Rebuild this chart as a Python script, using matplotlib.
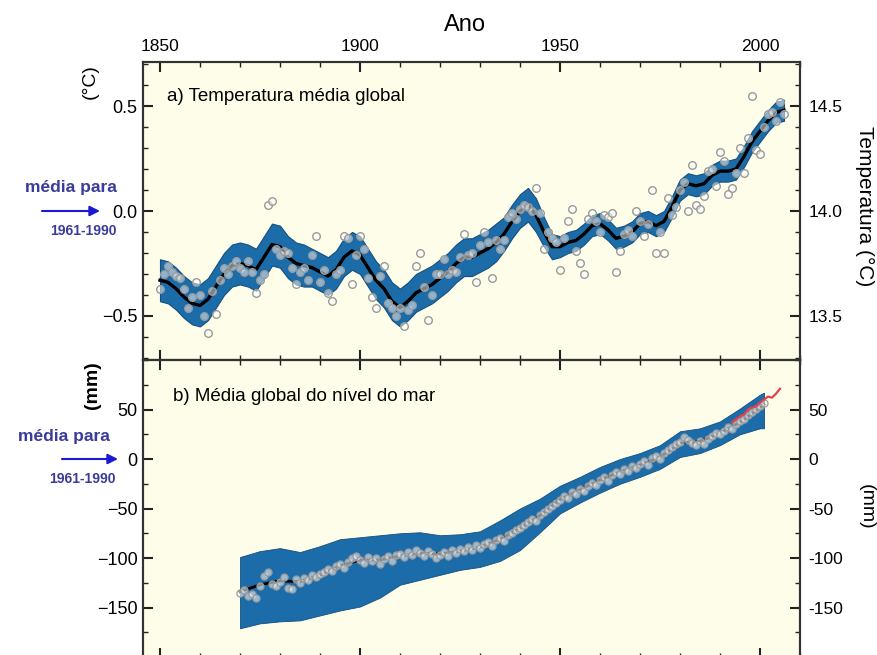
import matplotlib.pyplot as plt
import numpy as np
from matplotlib.ticker import MultipleLocator, FixedLocator, FuncFormatter

plt.rcParams['font.family'] = ['Liberation Sans', 'DejaVu Sans']

# --- a) global mean temperature, anomaly vs 1961-1990 (degC) ---
temp_years = np.arange(1850, 2007)
temp_anom = [
    -0.37, -0.30, -0.26, -0.29, -0.31, -0.32, -0.37, -0.46, -0.41, -0.34,
    -0.40, -0.50, -0.58, -0.38, -0.49, -0.33, -0.27, -0.30, -0.26, -0.24,
    -0.27, -0.29, -0.24, -0.29, -0.39, -0.33, -0.30, 0.03, 0.05, -0.18,
    -0.21, -0.19, -0.20, -0.27, -0.35, -0.29, -0.27, -0.33, -0.21, -0.12,
    -0.34, -0.28, -0.39, -0.43, -0.30, -0.28, -0.12, -0.13, -0.35, -0.21,
    -0.12, -0.18, -0.32, -0.41, -0.46, -0.31, -0.26, -0.44, -0.46, -0.50,
    -0.46, -0.55, -0.47, -0.45, -0.26, -0.20, -0.36, -0.52, -0.40, -0.30,
    -0.30, -0.23, -0.30, -0.28, -0.29, -0.22, -0.11, -0.21, -0.20, -0.34,
    -0.16, -0.10, -0.15, -0.32, -0.14, -0.18, -0.14, -0.03, -0.01, -0.04,
    0.01, 0.03, 0.02, 0.00, 0.11, -0.01, -0.18, -0.10, -0.13, -0.15,
    -0.28, -0.13, -0.05, 0.01, -0.19, -0.25, -0.30, -0.04, -0.01, -0.05,
    -0.10, -0.02, -0.03, -0.01, -0.29, -0.19, -0.11, -0.09, -0.12, 0.00,
    -0.05, -0.12, -0.06, 0.10, -0.20, -0.10, -0.20, 0.06, -0.02, 0.02,
    0.10, 0.14, 0.00, 0.22, 0.03, 0.01, 0.07, 0.19, 0.20, 0.12,
    0.28, 0.24, 0.08, 0.11, 0.18, 0.30, 0.18, 0.35, 0.55, 0.29,
    0.27, 0.40, 0.46, 0.47, 0.43, 0.52, 0.46,
]

# decadal smoothed curve and its 5-95% half width
temp_sm_years = np.arange(1850, 2007, 2)
temp_smooth = [
    -0.33, -0.34, -0.37, -0.41, -0.44, -0.45, -0.42, -0.36, -0.30, -0.26,
    -0.25, -0.26, -0.28, -0.22, -0.16, -0.17, -0.22, -0.25, -0.26, -0.27,
    -0.29, -0.31, -0.28, -0.22, -0.19, -0.21, -0.27, -0.33, -0.37, -0.43,
    -0.46, -0.43, -0.39, -0.37, -0.35, -0.32, -0.29, -0.25, -0.22, -0.22,
    -0.20, -0.18, -0.15, -0.11, -0.05, 0.00, 0.03, -0.02, -0.10, -0.17,
    -0.17, -0.15, -0.14, -0.11, -0.07, -0.06, -0.09, -0.13, -0.12, -0.10,
    -0.06, -0.05, -0.07, -0.05, 0.02, 0.10, 0.13, 0.12, 0.13, 0.17,
    0.19, 0.19, 0.20, 0.26, 0.33, 0.38, 0.43, 0.47, 0.48,
]
temp_err = [
    0.10, 0.10, 0.10, 0.10, 0.10, 0.10, 0.10, 0.10, 0.10, 0.10,
    0.10, 0.10, 0.10, 0.10, 0.10, 0.10, 0.10, 0.10, 0.10, 0.09,
    0.09, 0.09, 0.09, 0.09, 0.09, 0.09, 0.09, 0.09, 0.09, 0.09,
    0.09, 0.09, 0.09, 0.09, 0.09, 0.09, 0.09, 0.09, 0.09, 0.09,
    0.09, 0.09, 0.09, 0.08, 0.08, 0.08, 0.08, 0.08, 0.07, 0.06,
    0.05, 0.05, 0.05, 0.05, 0.05, 0.05, 0.05, 0.05, 0.05, 0.05,
    0.05, 0.05, 0.05, 0.05, 0.05, 0.05, 0.05, 0.05, 0.05, 0.05,
    0.05, 0.05, 0.05, 0.05, 0.05, 0.05, 0.05, 0.05, 0.05,
]

# --- b) global mean sea level (mm) vs 1961-1990 ---
sea_years = np.arange(1870, 2002)
sea_level = [
    -135, -132, -138, -136, -140, -128, -118, -114, -126, -128,
    -124, -119, -130, -131, -121, -125, -120, -122, -117, -119,
    -116, -114, -111, -113, -108, -106, -110, -104, -100, -98,
    -102, -105, -99, -103, -100, -106, -101, -98, -103, -97,
    -96, -99, -94, -97, -92, -95, -98, -93, -96, -100,
    -97, -94, -98, -92, -95, -91, -93, -89, -92, -87,
    -90, -86, -84, -88, -82, -80, -83, -77, -75, -72,
    -70, -67, -64, -61, -63, -57, -54, -50, -47, -44,
    -41, -37, -39, -33, -35, -30, -32, -27, -24, -26,
    -21, -18, -22, -16, -13, -15, -10, -12, -7, -9,
    -5, -2, -6, 1, 3, 0, 6, 9, 12, 15,
    17, 22, 19, 16, 14, 18, 15, 20, 23, 26,
    25, 28, 32, 30, 35, 38, 40, 44, 47, 51,
    54, 57,
]
sea_sm_years = [1870, 1875, 1880, 1885, 1890, 1895, 1900, 1905, 1910, 1915,
                1920, 1925, 1930, 1935, 1940, 1945, 1950, 1955, 1960, 1965,
                1970, 1975, 1980, 1985, 1990, 1995, 2000, 2001]
sea_smooth = [-134, -127, -123, -124, -117, -108, -102, -102, -98, -95,
              -96, -93, -89, -81, -70, -57, -41, -31, -21, -13,
              -6, 2, 16, 18, 26, 37, 52, 55]
sea_low = [-171, -166, -164, -163, -158, -153, -149, -140, -127, -122,
           -117, -112, -109, -103, -92, -74, -55, -44, -34, -25,
           -18, -10, 2, 6, 14, 25, 31, 31]
sea_high = [-99, -93, -90, -94, -88, -81, -79, -77, -75, -74,
            -77, -76, -73, -62, -50, -40, -27, -18, -8, 0,
            6, 14, 28, 31, 38, 51, 65, 67]

# satellite altimetry
sat_years = np.arange(1993, 2006)
sat_level = [37, 40, 43, 45, 50, 52, 53, 57, 60, 63, 62, 66, 71]

band_c = '#1b6ca8'
cream = '#fdfdea'
blue_txt = '#3b3b9b'
W, H = 878, 655


def fx(x):
    return x / W


def fy(y):
    return 1 - y / H


fig = plt.figure(figsize=(8.78, 6.55), dpi=100)
ax1 = fig.add_axes([fx(143), fy(360), 657 / W, 298 / H])
ax2 = fig.add_axes([fx(143), fy(658), 657 / W, 298 / H])

# panel a
ax1.set_facecolor(cream)
s1 = np.array(temp_smooth)
e1 = np.array(temp_err)
ax1.fill_between(temp_sm_years, s1 - e1, s1 + e1, color=band_c,
                 edgecolor='#15507e', lw=0.8, zorder=2)
ax1.plot(temp_sm_years, s1, color='black', lw=2.4, zorder=3)
ax1.scatter(temp_years, temp_anom, s=30, facecolor=(1, 1, 1, 0.5),
            edgecolor='#9a9a9a', lw=1.0, zorder=4)
ax1.set_xlim(1845.75, 2010)
ax1.set_ylim(-0.71, 0.71)
ax1.yaxis.set_major_locator(FixedLocator([-0.5, 0.0, 0.5]))
ax1.yaxis.set_minor_locator(MultipleLocator(0.1))
ax1.yaxis.set_major_formatter(FuncFormatter(lambda v, p: f'{v:.1f}'.replace('-', '\u2212')))
ax1.text(0.036, 0.885, 'a) Temperatura média global', transform=ax1.transAxes,
         fontsize=13.5, va='center')

ax1r = ax1.twinx()
ax1r.set_ylim(13.29, 14.71)
ax1r.yaxis.set_major_locator(FixedLocator([13.5, 14.0, 14.5]))
ax1r.yaxis.set_minor_locator(MultipleLocator(0.1))
ax1r.yaxis.set_major_formatter(FuncFormatter(lambda v, p: f'{v:.1f}'))

# panel b
ax2.set_facecolor(cream)
ax2.fill_between(sea_sm_years, sea_low, sea_high, color=band_c,
                 edgecolor='#15507e', lw=0.6, zorder=2)
ax2.plot(sea_sm_years, sea_smooth, color='black', lw=2.0, zorder=3)
ax2.scatter(sea_years, sea_level, s=26, facecolor=(1, 1, 1, 0.55),
            edgecolor='#9a9a9a', lw=0.9, zorder=4)
ax2.plot(sat_years, sat_level, color='#e8404a', lw=1.6, zorder=5)
ax2.set_xlim(1845.75, 2010)
ax2.set_ylim(-201, 100)
ax2.yaxis.set_major_locator(FixedLocator([-150, -100, -50, 0, 50]))
ax2.yaxis.set_minor_locator(MultipleLocator(25))
ax2.yaxis.set_major_formatter(FuncFormatter(lambda v, p: f'{v:.0f}'.replace('-', '\u2212')))
ax2.text(0.045, 0.878, 'b) Média global do nível do mar', transform=ax2.transAxes,
         fontsize=13.5, va='center')

ax2r = ax2.twinx()
ax2r.set_ylim(-201, 100)
ax2r.yaxis.set_major_locator(FixedLocator([-150, -100, -50, 0, 50]))
ax2r.yaxis.set_minor_locator(MultipleLocator(25))
ax2r.yaxis.set_major_formatter(FuncFormatter(lambda v, p: f'{v:.0f}'))

for ax in (ax1, ax2):
    ax.xaxis.set_major_locator(MultipleLocator(50))
    ax.xaxis.set_minor_locator(MultipleLocator(10))
    ax.tick_params(axis='x', which='both', direction='in', top=True, bottom=True,
                   labelbottom=False, labeltop=False)
    ax.tick_params(axis='y', which='both', direction='in', left=True, right=False,
                   labelsize=13, pad=4)
for ax in (ax1r, ax2r):
    ax.tick_params(axis='y', which='both', direction='in', labelsize=12.5, pad=6)
for ax in (ax1, ax2, ax1r, ax2r):
    ax.tick_params(which='major', length=7, width=1.5, color='#222222')
    ax.tick_params(which='minor', length=3.6, width=1.0, color='#222222')
    for sp in ax.spines.values():
        sp.set_linewidth(1.5)
        sp.set_color('#333333')
ax1.tick_params(axis='x', labeltop=True, labelsize=12.5, pad=6)

# labels
fig.text(fx(465), fy(25), 'Ano', ha='center', va='center', fontsize=17)
fig.text(fx(90), fy(82), '(°C)', rotation=90, ha='center', va='center', fontsize=14)
fig.text(fx(865), fy(206), 'Temperatura (°C)', rotation=-90, ha='center',
         va='center', fontsize=15)
fig.text(fx(92), fy(385), '(mm)', rotation=90, ha='center', va='center',
         fontsize=14, fontweight='bold')
fig.text(fx(866), fy(507), '(mm)', rotation=-90, ha='center', va='center', fontsize=14)

# "media para 1961-1990" markers
for ty, ay, tx, sx, ex in ((187, 211, 71, 42, 100), (437, 459, 64, 62, 118)):
    fig.text(fx(tx), fy(ty), 'média para', ha='center', va='center',
             fontsize=12.5, fontweight='bold', color=blue_txt)
    fig.text(fx(tx + 12 if ty < 300 else tx + 18), fy(ay + 20), '1961-1990',
             ha='center', va='center', fontsize=10, fontweight='bold', color=blue_txt)
    ax1.annotate('', xy=(fx(ex), fy(ay)), xytext=(fx(sx), fy(ay)),
                 xycoords='figure fraction', textcoords='figure fraction',
                 arrowprops=dict(arrowstyle='-|>', color='#1a1ad6', lw=1.5,
                                 mutation_scale=15, shrinkA=0, shrinkB=0))

fig.savefig('out.png', dpi=100)
